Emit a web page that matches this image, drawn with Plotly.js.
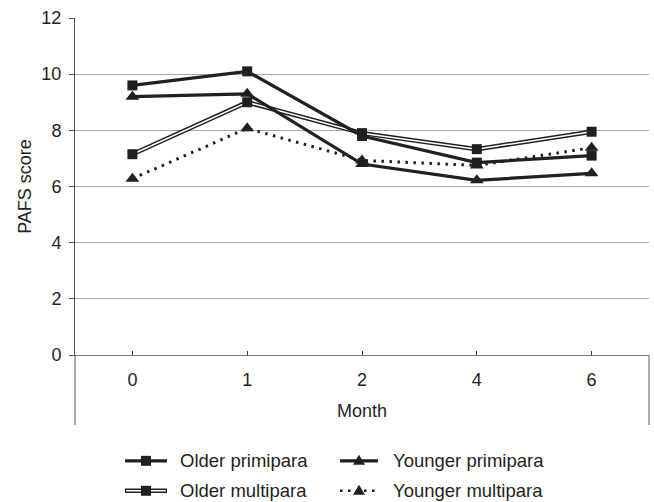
<!DOCTYPE html>
<html>
<head>
<meta charset="utf-8">
<script src="https://cdn.plot.ly/plotly-3.0.1.min.js"></script>
<style>html,body{margin:0;padding:0;background:#fff;}#chart{width:654px;height:502px;}</style>
</head>
<body>
<div id="chart"></div>
<script>
// ---- data ----
var months = ['0', '1', '2', '4', '6'];
var olderPrimipara = [9.6, 10.1, 7.8, 6.85, 7.1];
var youngerPrimipara = [9.2, 9.3, 6.8, 6.22, 6.47];
var olderMultipara = [7.15, 9.0, 7.9, 7.33, 7.95];
var youngerMultipara = [6.28, 8.07, 6.93, 6.75, 7.38];
var seriesNames = ['Older primipara', 'Younger primipara', 'Older multipara', 'Younger multipara'];
var yTicks = [0, 2, 4, 6, 8, 10, 12];

var FONT = 'Liberation Sans, Arial, sans-serif';
var FS = 18;

var traces = [
  // Older multipara: double line (black outer + white inner)
  {x: months, y: olderMultipara, type: 'scatter', mode: 'lines', showlegend: false,
   line: {color: '#231f20', width: 4.5}, hoverinfo: 'skip'},
  {x: months, y: olderMultipara, type: 'scatter', mode: 'lines+markers', name: seriesNames[2], showlegend: false,
   line: {color: '#ffffff', width: 1.5},
   marker: {symbol: 'square', size: 10, color: '#231f20'}},
  // Younger multipara: dotted
  {x: months, y: youngerMultipara, type: 'scatter', mode: 'lines+markers', name: seriesNames[3], showlegend: false,
   line: {color: '#231f20', width: 3, dash: '2.5px,5.5px'},
   marker: {symbol: 'triangle-up', size: 12, color: '#231f20'}},
  // Younger primipara
  {x: months, y: youngerPrimipara, type: 'scatter', mode: 'lines+markers', name: seriesNames[1], showlegend: false,
   line: {color: '#231f20', width: 3.2},
   marker: {symbol: 'triangle-up', size: 12, color: '#231f20'}},
  // Older primipara
  {x: months, y: olderPrimipara, type: 'scatter', mode: 'lines+markers', name: seriesNames[0], showlegend: false,
   line: {color: '#231f20', width: 3.2},
   marker: {symbol: 'square', size: 10, color: '#231f20'}}
];

// plot area in pixels: x 75..649, y 17.5..355
function px(p) { return (p - 75) / 574; }
function py(p) { return (355 - p) / 337.5; }

var shapes = [
  // y-axis line extension below zero
  {type: 'line', xref: 'paper', yref: 'paper', x0: 0, x1: 0, y0: 0, y1: py(425), line: {color: '#555', width: 1}},
  // right vertical line below zero
  {type: 'line', xref: 'paper', yref: 'paper', x0: 1, x1: 1, y0: 0, y1: py(425), line: {color: '#777', width: 1.2}}
];
var annotations = [];

// custom legend
var legendItems = [
  {name: seriesNames[0], col: 0, row: 0, style: 'solid', sym: 'square'},
  {name: seriesNames[1], col: 1, row: 0, style: 'solid', sym: 'triangle'},
  {name: seriesNames[2], col: 0, row: 1, style: 'double', sym: 'square'},
  {name: seriesNames[3], col: 1, row: 1, style: 'dot', sym: 'triangle'}
];
var colLine = [[125, 167], [340, 378]];
var colText = [178, 391];
var rowY = [461, 491];
legendItems.forEach(function (it) {
  var x0 = px(colLine[it.col][0]), x1 = px(colLine[it.col][1]);
  var xm = px((colLine[it.col][0] + colLine[it.col][1]) / 2);
  var y = py(rowY[it.row]);
  if (it.style === 'solid') {
    shapes.push({type: 'line', xref: 'paper', yref: 'paper', x0: x0, x1: x1, y0: y, y1: y, line: {color: '#231f20', width: 3.2}});
  } else if (it.style === 'double') {
    shapes.push({type: 'line', xref: 'paper', yref: 'paper', x0: x0, x1: x1, y0: y, y1: y, line: {color: '#231f20', width: 4.5}});
    shapes.push({type: 'line', xref: 'paper', yref: 'paper', x0: x0 + 0.002, x1: x1 - 0.002, y0: y, y1: y, line: {color: '#fff', width: 1.5}});
  } else {
    shapes.push({type: 'line', xref: 'paper', yref: 'paper', x0: x0, x1: x1, y0: y, y1: y, line: {color: '#231f20', width: 2.5, dash: '2.5px,5.5px'}});
  }
  if (it.sym === 'square') {
    shapes.push({type: 'rect', xref: 'paper', yref: 'paper', xsizemode: 'pixel', ysizemode: 'pixel',
      xanchor: xm, yanchor: y, x0: -5, x1: 5, y0: -5, y1: 5, fillcolor: '#231f20', line: {width: 0}});
  } else {
    shapes.push({type: 'path', xref: 'paper', yref: 'paper', xsizemode: 'pixel', ysizemode: 'pixel',
      xanchor: xm, yanchor: y, path: 'M-6,-4 L6,-4 L0,6 Z', fillcolor: '#231f20', line: {width: 0}});
  }
  annotations.push({xref: 'paper', yref: 'paper', x: px(colText[it.col]), y: y, xanchor: 'left', yanchor: 'middle',
    text: it.name, showarrow: false, font: {family: FONT, size: 18.5, color: '#231f20'}});
});

var layout = {
  width: 654, height: 502,
  margin: {l: 75, r: 5, t: 17.5, b: 147, pad: 0},
  paper_bgcolor: '#fff', plot_bgcolor: '#fff',
  showlegend: false,
  font: {family: FONT, size: FS, color: '#231f20'},
  xaxis: {
    type: 'category', categoryorder: 'array', categoryarray: months,
    range: [-0.5, months.length - 0.5],
    showgrid: false, zeroline: false,
    showline: true, linecolor: '#777', linewidth: 1.2,
    ticks: 'inside', ticklen: 4, tickcolor: '#333', tickwidth: 1,
    ticklabelstandoff: 8,
    tickfont: {family: FONT, size: FS, color: '#231f20'},
    title: {text: 'Month', standoff: 15, font: {family: FONT, size: FS, color: '#231f20'}},
    automargin: false, fixedrange: true
  },
  yaxis: {
    range: [0, 12], tickvals: yTicks, ticktext: yTicks.map(String),
    showgrid: true, gridcolor: '#a6a6a6', gridwidth: 1,
    zeroline: false,
    showline: true, linecolor: '#555', linewidth: 1,
    ticks: 'outside', ticklen: 5, tickcolor: '#555',
    ticklabelstandoff: 4,
    tickfont: {family: FONT, size: FS, color: '#231f20'},
    title: {text: 'PAFS score', standoff: 5, font: {family: FONT, size: FS, color: '#231f20'}},
    automargin: false, fixedrange: true
  },
  shapes: shapes,
  annotations: annotations
};

Plotly.newPlot('chart', traces, layout, {displayModeBar: false, staticPlot: true});
</script>
</body>
</html>
